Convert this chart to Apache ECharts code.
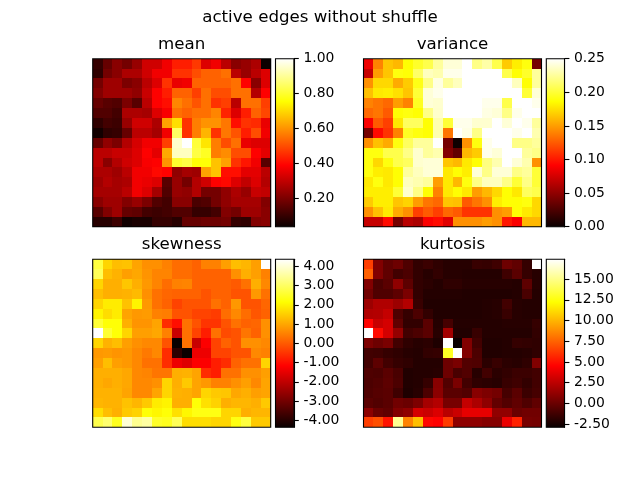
<!DOCTYPE html>
<html><head><meta charset="utf-8">
<style>html,body{margin:0;padding:0;background:#fff}#c{width:640px;height:480px}</style>
<script src="https://cdn.jsdelivr.net/npm/echarts@6/dist/echarts.min.js"></script>
</head><body><div id="c"></div>
<script>
const chartTitle = 'active edges without shuffle';
const meanValues = [
[.10,.17,.22,.19,.24,.32,.32,.37,.43,.43,.47,.34,.37,.29,.22,.24,.27,.04],
[.09,.19,.22,.27,.27,.32,.37,.37,.46,.46,.50,.53,.53,.55,.29,.24,.29,.34],
[.19,.25,.25,.20,.22,.29,.34,.46,.36,.37,.53,.53,.53,.53,.55,.39,.22,.34],
[.21,.25,.25,.25,.23,.31,.39,.43,.53,.53,.48,.55,.50,.50,.55,.55,.28,.39],
[.17,.15,.14,.20,.15,.29,.39,.41,.58,.55,.51,.55,.46,.48,.29,.55,.55,.48],
[.14,.14,.12,.27,.27,.26,.34,.38,.55,.53,.55,.55,.58,.44,.34,.43,.53,.49],
[.09,.12,.11,.24,.32,.32,.27,.62,.71,.46,.57,.60,.60,.56,.41,.46,.45,.36],
[.05,.09,.10,.17,.29,.29,.26,.37,.85,.46,.57,.65,.46,.56,.51,.43,.50,.37],
[.17,.23,.20,.28,.33,.37,.37,.48,.95,1.0,.81,.72,.57,.50,.55,.36,.34,.34],
[.29,.29,.31,.31,.34,.39,.35,.63,.94,.94,.82,.79,.57,.59,.50,.50,.39,.35],
[.29,.22,.28,.32,.34,.38,.39,.60,.80,.82,.76,.76,.67,.62,.46,.42,.37,.15],
[.27,.27,.25,.29,.37,.37,.40,.39,.23,.26,.25,.62,.67,.41,.41,.35,.35,.29],
[.25,.28,.26,.27,.37,.36,.34,.15,.24,.19,.28,.32,.39,.40,.34,.30,.34,.28],
[.26,.26,.26,.29,.37,.34,.26,.14,.24,.23,.28,.19,.19,.23,.27,.24,.31,.30],
[.22,.25,.25,.21,.24,.20,.14,.12,.22,.22,.13,.14,.19,.23,.26,.26,.26,.21],
[.15,.21,.25,.17,.16,.12,.11,.12,.14,.14,.10,.10,.12,.21,.19,.25,.25,.22],
[.08,.08,.11,.05,.06,.06,.10,.10,.08,.17,.17,.18,.18,.19,.10,.09,.21,.22]];
const varianceValues = [
[.085,.14,.165,.16,.187,.197,.205,.225,.24,.24,.25,.22,.228,.205,.167,.18,.19,.04],
[.07,.15,.165,.19,.188,.212,.234,.23,.245,.245,.25,.25,.25,.25,.205,.187,.197,.225],
[.145,.172,.172,.155,.167,.192,.22,.243,.225,.234,.25,.25,.25,.25,.25,.234,.187,.225],
[.163,.178,.18,.175,.165,.2,.24,.245,.25,.25,.25,.25,.25,.25,.25,.25,.2,.24],
[.14,.135,.13,.15,.14,.195,.24,.238,.25,.25,.25,.25,.245,.245,.205,.25,.25,.245],
[.13,.135,.125,.187,.19,.187,.22,.237,.25,.25,.25,.25,.243,.24,.22,.245,.25,.25],
[.09,.125,.115,.178,.21,.21,.187,.23,.2,.245,.245,.238,.238,.25,.24,.25,.245,.225],
[.04,.095,.11,.14,.195,.19,.187,.23,.135,.25,.243,.22,.25,.25,.25,.245,.25,.23],
[.145,.163,.155,.19,.21,.225,.225,.25,.04,.002,.145,.19,.245,.25,.25,.22,.22,.225],
[.19,.19,.205,.205,.22,.238,.225,.23,.045,.033,.16,.167,.245,.24,.25,.25,.225,.22],
[.19,.172,.19,.205,.21,.238,.24,.24,.165,.16,.178,.187,.218,.23,.25,.24,.23,.145],
[.19,.18,.178,.187,.225,.234,.24,.24,.178,.187,.18,.24,.22,.24,.24,.22,.225,.2],
[.178,.19,.178,.187,.234,.23,.225,.15,.178,.16,.19,.22,.234,.234,.22,.2,.22,.2],
[.18,.18,.18,.2,.238,.22,.187,.14,.178,.187,.178,.15,.16,.172,.187,.178,.21,.205],
[.167,.18,.18,.165,.17,.15,.135,.13,.165,.163,.125,.135,.145,.18,.187,.187,.19,.172],
[.145,.163,.178,.155,.145,.115,.125,.115,.13,.125,.11,.11,.11,.145,.15,.187,.178,.172],
[.07,.07,.095,.04,.065,.06,.09,.095,.08,.145,.145,.145,.15,.145,.10,.09,.16,.16]];
const skewnessValues = [
[2.7,1.6,1.3,1.35,.95,.7,.7,.5,.25,.25,.1,.5,.5,.9,1.3,1.2,.9,4.4],
[2.9,1.3,1.15,.9,1.0,.75,.55,.55,.25,.25,.1,.1,.1,.1,.7,1.1,.9,.5],
[1.6,1.1,1.1,1.4,1.1,.8,.55,.25,.5,.55,.1,.1,.1,.1,0,.3,1.1,.6],
[1.3,1.1,1.1,1.15,1.25,.7,.3,.15,.1,.1,.1,-.1,.1,.1,-.1,-.1,.8,.3],
[1.6,1.9,1.9,1.35,2.0,.8,.3,.1,-.3,-.1,-.1,-.1,.3,.1,.8,-.1,-.1,.15],
[2.0,1.7,1.9,.95,.8,.85,.5,.45,-.1,-.1,-.3,-.3,-.4,.25,.6,.25,-.05,.1],
[2.6,2.2,2.2,1.1,.75,.75,.95,-.6,-1.0,.3,-.1,-.5,-.5,-.1,.3,.1,.15,.7],
[4.4,2.6,2.2,1.6,.9,.9,1.0,.5,-1.9,.3,-.3,-.8,.3,-.2,-.1,.35,.1,.7],
[1.6,1.15,1.3,.9,.7,.6,.6,-.1,-4.4,.3,-1.9,-1.2,-.3,.1,-.1,.7,.7,.6],
[.8,.85,.75,.8,.6,.4,.6,-.6,-3.9,-4.4,-1.4,-1.4,-.3,-.3,-.1,-.1,.6,.5],
[.9,1.3,.9,.8,.6,.3,.3,-.6,-1.4,-1.6,-1.2,-1.2,-.8,-.6,.1,.3,.3,1.6],
[1.1,1.1,1.1,1.0,.6,.55,.35,.35,1.1,1.15,.95,-.6,-.8,.3,.3,.7,.7,.9],
[1.1,1.0,1.1,1.0,.6,.6,.7,1.6,1.1,1.45,.95,.8,.5,.5,.7,.9,.6,.95],
[1.15,1.15,1.15,.95,.6,.6,.95,1.6,1.15,1.1,.95,1.6,1.45,1.4,1.0,1.1,.9,.95],
[1.2,1.15,1.15,1.35,1.2,1.45,1.9,2.0,1.1,1.1,2.2,1.75,1.55,1.1,1.2,1.2,1.1,1.45],
[1.7,1.3,1.1,1.45,1.55,2.2,2.05,2.2,1.75,2.05,2.3,2.3,2.3,1.6,1.6,1.1,1.2,1.2],
[2.8,3.1,2.4,4.0,3.4,3.55,2.5,2.4,2.9,1.7,1.7,1.7,1.6,1.6,2.3,2.7,1.45,1.45]];
const kurtosisValues = [
[6.4,.7,-.3,.1,-.8,-1.7,-1.4,-1.8,-2,-2,-2,-1.5,-1.6,-1.3,.1,-.3,-1.6,17.4],
[7.4,.7,-.3,-1.2,-.9,-1.7,-2,-1.7,-2,-2,-2.1,-2.1,-2.1,-2.1,-1.3,-.5,-1.6,-2],
[.7,-.9,-.5,1.1,-.4,-1.7,-1.9,-2.1,-1.8,-1.8,-2,-2,-2,-2,-2,-2.1,-.4,-2],
[.2,-.8,-.8,-.4,.5,-1.7,-2.1,-2.1,-2.1,-2.1,-2.2,-2.2,-2.2,-2.2,-2.2,-2.1,-1,-2.1],
[1.5,2.1,2.1,1.5,2.2,-1.5,-2.2,-2.2,-2.2,-2.2,-2.2,-2.2,-2.1,-2,-1.2,-2,-2.1,-2.1],
[2.1,2.2,2.7,-.8,-1.6,-.9,-1.7,-2.2,-2.2,-2.2,-2.2,-2.2,-2.1,-2,-1.5,-2,-2.1,-2.1],
[4.6,2.8,3.2,-.3,-1.7,-1.7,-.5,-2.1,-1.1,-2.1,-2.1,-2.1,-2.1,-2.1,-2,-2,-2,-1.6],
[17.4,4.8,3.2,1.3,-1.2,-.9,-.5,-2,1.7,-2.2,-2.2,-1.5,-2.1,-2.1,-2.1,-2.1,-2.1,-1.7],
[.6,.1,.5,-1.2,-1.8,-2,-1.9,-2.3,17.4,-2.9,.7,-1.2,-2.2,-2.2,-2.1,-1.6,-1.7,-1.8],
[-1.2,-1.3,-1.6,-1.8,-2,-2.1,-1.7,-1.6,13,17.4,.7,-.9,-2.2,-2.2,-2.1,-2.1,-2,-1.8],
[-1.2,-.4,-1.2,-1.6,-1.8,-2.1,-2.1,-2.1,.1,.5,-.7,-.8,-1.9,-1.5,-1.9,-2,-1.8,.7],
[-.8,-.9,-.5,-1,-2.2,-2.1,-2.1,-2,.1,-1,-.7,-2,-1.2,-1.9,-1.7,-1.4,-1.4,-1.2],
[-.9,-.7,-.4,-.9,-2.2,-2.1,-1.6,.9,-.7,.5,-1.2,-1.8,-1.9,-2,-1.5,-1.3,-1.7,-1.2],
[-.8,-.6,-.5,-1.3,-2.3,-2,-.9,1.0,-.5,-.5,-.7,.9,.6,.3,-1.1,-.5,-1.4,-1.1],
[-.5,-.7,-.5,.2,0,.6,1.8,2.2,.4,.4,2.7,2.0,1.1,-.2,-.7,-.3,-.8,-.3],
[1.0,0,-.3,.7,1.1,3.2,2.9,3.4,2.4,2.9,3.8,3.8,3.8,1.2,1.2,0,.2,.2],
[6.4,6.9,5.1,15.2,8.5,10.3,4.7,4.5,6.3,1.1,1.1,1.1,.8,.8,3.9,5.5,.4,.3]];
const meanTicks = [0.2,0.4,0.6,0.8,1.0];
const varianceTicks = [0,0.05,0.1,0.15,0.2,0.25];
const skewnessTicks = [-4,-3,-2,-1,0,1,2,3,4];
const kurtosisTicks = [-2.5,0,2.5,5,7.5,10,12.5,15];
const panels = [
 {name:'mean',values:meanValues,ticks:meanTicks,lo:0.038,hi:1.0,left:92.7,top:58.7,cbLeft:275.5,cbW:18.4},
 {name:'variance',values:varianceValues,ticks:varianceTicks,lo:0,hi:0.25,left:363.5,top:58.7,cbLeft:546.3,cbW:18.2},
 {name:'skewness',values:skewnessValues,ticks:skewnessTicks,lo:-4.36,hi:4.36,left:92.7,top:259.3,cbLeft:275.5,cbW:18.4},
 {name:'kurtosis',values:kurtosisValues,ticks:kurtosisTicks,lo:-2.9,hi:17.4,left:363.5,top:259.3,cbLeft:546.3,cbW:18.2}];
const W=178,H=168,FONT='"DejaVu Sans"';
// matplotlib "hot" colormap
const stops=[[0,[10,0,0]],[.365,[255,0,0]],[.746,[255,255,0]],[1,[255,255,255]]];
function hot(t){for(let i=1;i<stops.length;i++){if(t<=stops[i][0]){const a=stops[i-1],b=stops[i],f=(t-a[0])/(b[0]-a[0]);
 return 'rgb('+a[1].map((c,k)=>Math.round(c+(b[1][k]-c)*f)).join(',')+')';}}return 'rgb(255,255,255)';}
const palette=[];for(let i=0;i<=128;i++)palette.push(hot(i/128));
const gradient=new echarts.graphic.LinearGradient(0,0,0,1,[{offset:0,color:'#fff'},{offset:.254,color:'#ff0'},{offset:.635,color:'#f00'},{offset:1,color:'rgb(10,0,0)'}]);
const titleStyle={fontFamily:FONT,fontWeight:'normal',fontSize:16.67,color:'#000'};
const opt={animation:false,backgroundColor:'#fff',title:[{text:chartTitle,left:320,top:9,padding:0,textAlign:'center',textStyle:titleStyle}],
 grid:[],xAxis:[],yAxis:[],visualMap:[],series:[]};
const cats=n=>Array.from({length:n},(_,i)=>i);
const frame={show:true,borderColor:'#000',borderWidth:1.1,backgroundColor:'transparent',z:10};
panels.forEach((p,i)=>{
 const g=i*2;
 opt.title.push({text:p.name,left:p.left+W/2,top:p.top-23,padding:0,textAlign:'center',textStyle:titleStyle});
 opt.grid.push(Object.assign({left:p.left,top:p.top,width:W,height:H},frame));
 opt.grid.push(Object.assign({left:p.cbLeft,top:p.top,width:p.cbW,height:H},frame));
 const hide={axisLine:{show:false},axisTick:{show:false},axisLabel:{show:false},splitLine:{show:false}};
 opt.xAxis.push(Object.assign({type:'category',gridIndex:g,data:cats(18)},hide));
 opt.yAxis.push(Object.assign({type:'category',gridIndex:g,data:cats(17),inverse:true},hide));
 opt.xAxis.push(Object.assign({type:'value',gridIndex:g+1,min:0,max:1},hide));
 opt.yAxis.push({type:'value',gridIndex:g+1,position:'right',min:p.lo,max:p.hi,
  axisLine:{show:true,onZero:false,lineStyle:{color:'#000',width:1.1}},splitLine:{show:false},
  axisTick:{show:true,inside:false,length:4.9,lineStyle:{color:'#000',width:1.1},customValues:p.ticks},
  axisLabel:{show:true,margin:9.5,padding:[2,0,0,0],fontFamily:FONT,fontSize:13.9,color:'#000',customValues:p.ticks,formatter:v=>Number(v).toFixed(2)}});
 const cells=[];p.values.forEach((row,y)=>row.forEach((v,x)=>cells.push([x,y,v])));
 opt.series.push({type:'custom',xAxisIndex:g,yAxisIndex:g,data:cells,encode:{x:0,y:1},
  renderItem:(params,api)=>{
   const c=api.coord([api.value(0),api.value(1)]),s=api.size([1,1]);
   const x0=Math.round(c[0]-s[0]/2),x1=Math.round(c[0]+s[0]/2),y0=Math.round(c[1]-s[1]/2),y1=Math.round(c[1]+s[1]/2);
   return {type:'rect',shape:{x:x0,y:y0,width:x1-x0,height:y1-y0},style:{fill:api.visual('color')}};
  }});
 opt.visualMap.push({type:'continuous',show:false,seriesIndex:i*2,min:p.lo,max:p.hi,dimension:2,inRange:{color:palette}});
 opt.series.push({type:'custom',xAxisIndex:g+1,yAxisIndex:g+1,data:[[0,p.lo,1,p.hi]],clip:false,
  renderItem:(params,api)=>{const a=api.coord([api.value(0),api.value(3)]),b=api.coord([api.value(2),api.value(1)]);
   return {type:'rect',shape:{x:a[0],y:a[1],width:b[0]-a[0],height:b[1]-a[1]},style:{fill:gradient}};}});
});
echarts.init(document.getElementById('c'),null,{renderer:'canvas'}).setOption(opt);
</script></body></html>
